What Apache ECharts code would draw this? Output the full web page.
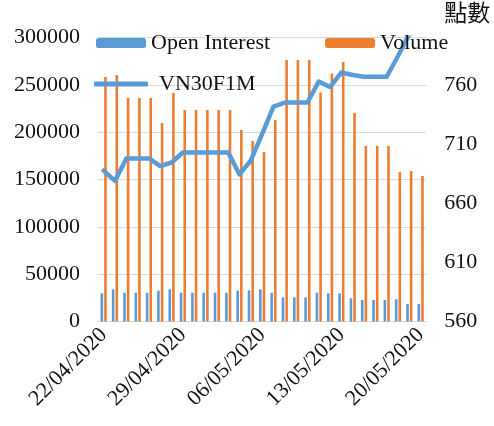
<!DOCTYPE html>
<html>
<head>
<meta charset="utf-8">
<script src="https://cdn.jsdelivr.net/npm/echarts@6/dist/echarts.min.js"></script>
<style>
html,body{margin:0;padding:0;background:#fff;}
#c{width:494px;height:426px;}
</style>
</head>
<body>
<div id="c"></div>
<script>
const categories = [
  '22/04/2020','23/04/2020','24/04/2020','25/04/2020','26/04/2020','27/04/2020','28/04/2020',
  '29/04/2020','30/04/2020','01/05/2020','02/05/2020','03/05/2020','04/05/2020','05/05/2020',
  '06/05/2020','07/05/2020','08/05/2020','09/05/2020','10/05/2020','11/05/2020','12/05/2020',
  '13/05/2020','14/05/2020','15/05/2020','16/05/2020','17/05/2020','18/05/2020','19/05/2020',
  '20/05/2020'
];
const openInterest = [
  29900, 34100, 30500, 30500, 30500, 32700, 34100,
  30500, 30500, 30500, 30500, 30500, 32700, 33000,
  34100, 30500, 25700, 25700, 25700, 30500, 29900,
  29900, 24600, 22800, 22800, 22800, 23600, 18600,
  18600
];
const volume = [
  258500, 260600, 236300, 236300, 236300, 209900, 241600,
  223600, 223600, 223600, 223600, 223600, 202500, 190800,
  179200, 213000, 276400, 276400, 276400, 242100, 262200,
  274300, 220400, 185600, 185600, 185600, 158100, 159100,
  153900
];
const vn30f1m = [
  687.7, 678.9, 697.9, 697.9, 697.9, 691.5, 694.5,
  703.0, 703.0, 703.0, 703.0, 703.0, 684.4, 696.2,
  718.6, 741.7, 745.2, 745.2, 745.2, 763.0, 758.3,
  770.6, 768.5, 767.0, 767.0, 767.0, 784.5, 803.0,
  806.0
];
const rightAxisName = '點數';

const serif = 'Liberation Serif';
const chart = echarts.init(document.getElementById('c'), null, {renderer: 'canvas'});
chart.setOption({
  animation: false,
  backgroundColor: '#ffffff',
  textStyle: {fontFamily: serif},
  grid: {left: 98, right: 67.7, top: 37.7, bottom: 104.4, containLabel: false},
  legend: [
    {
      data: ['Open Interest', 'Volume'],
      left: 96, top: 32, padding: 0,
      itemWidth: 50, itemHeight: 10, itemGap: 55,
      textStyle: {fontFamily: serif, fontSize: 22, color: '#111'}
    },
    {
      data: [{name: 'VN30F1M', icon: 'roundRect'}],
      left: 94, top: 73, padding: 0,
      itemWidth: 54, itemHeight: 5,
      itemStyle: {color: '#5B9BD5', borderWidth: 0},
      textStyle: {fontFamily: serif, fontSize: 22, color: '#111', padding: [0,0,0,6]}
    }
  ],
  xAxis: {
    type: 'category',
    data: categories,
    boundaryGap: true,
    axisLine: {lineStyle: {color: '#D9D9D9', width: 1}},
    axisTick: {interval: 6, length: 5, lineStyle: {color: '#D9D9D9'}},
    axisLabel: {interval: 6, rotate: 45, fontSize: 22, fontFamily: serif, color: '#111', margin: 10}
  },
  yAxis: [
    {
      type: 'value', min: 0, max: 300000, interval: 50000,
      axisLine: {show: false}, axisTick: {show: false},
      axisLabel: {fontSize: 22, fontFamily: serif, color: '#111', margin: 18,
        formatter: function (v) { return String(v); }},
      splitLine: {lineStyle: {color: '#D9D9D9', width: 1}}
    },
    {
      type: 'value', min: 560, max: 800, interval: 50, position: 'right',
      name: rightAxisName, nameLocation: 'end', nameGap: 14,
      nameTextStyle: {fontFamily: 'Noto Sans CJK TC', fontSize: 23, color: '#111', align: 'left', padding: [0,0,0,18]},
      axisLine: {show: false}, axisTick: {show: false},
      axisLabel: {fontSize: 22, fontFamily: serif, color: '#111', margin: 18, showMaxLabel: false},
      splitLine: {show: false}
    }
  ],
  series: [
    {
      name: 'Open Interest', type: 'bar', data: openInterest, yAxisIndex: 0,
      barWidth: 2.6, barGap: '40%',
      itemStyle: {color: '#5B9BD5'}
    },
    {
      name: 'Volume', type: 'bar', data: volume, yAxisIndex: 0,
      barWidth: 2.6, barGap: '40%',
      itemStyle: {color: '#ED7D31'}
    },
    {
      name: 'VN30F1M', type: 'line', data: vn30f1m, yAxisIndex: 1,
      symbol: 'none', showSymbol: false, clip: true,
      lineStyle: {color: '#5B9BD5', width: 4.5, cap: 'round', join: 'round'},
      itemStyle: {color: '#5B9BD5'}
    }
  ]
});
</script>
</body>
</html>
